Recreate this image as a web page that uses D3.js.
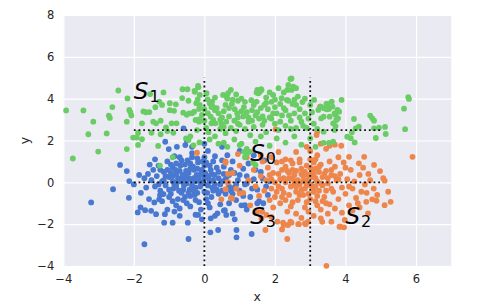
<!DOCTYPE html>
<html>
<head>
<meta charset="utf-8">
<script src="https://cdn.jsdelivr.net/npm/d3@7"></script>
<style>
  body { margin: 0; background: #fff; }
  text { font-family: "DejaVu Sans", sans-serif; }
</style>
</head>
<body>
<div id="chart"></div>
<script>
// cluster points
blueXY = [
  [-3.21,-0.96],[-2.59,-0.33],[-2.14,-0.74],[-2.13,0.06],[-2.20,0.54],[-2.39,0.83],[-1.70,-2.96],[-1.89,-1.44],
  [-1.81,-1.20],[-1.68,-1.33],[-1.51,-1.36],[-1.37,-1.52],[-1.42,-0.96],[-1.57,-0.80],[-1.26,-0.61],[-1.16,-0.56],
  [-1.28,-0.81],[-1.14,-1.93],[-0.90,-1.93],[-1.12,-1.52],[-0.45,-2.71],[-0.47,-1.93],[-0.07,-1.77],[0.17,-2.39],
  [0.39,-2.28],[0.91,-2.28],[0.91,-2.63],[1.34,-2.47],[-1.11,1.94],[-1.01,1.59],[-0.78,1.70],[-0.59,2.58],
  [-0.54,1.78],[-1.05,-1.30],[-0.85,-1.40],[-0.70,-1.25],[-0.80,-1.10],
  [-1.60,0.40],[-1.50,0.10],[-1.45,0.60],[-1.40,-0.20],[-1.35,0.30],[-1.30,0.80],[-1.25,-0.40],[-1.20,0.05],
  [-1.15,0.50],[-1.10,-0.15],[-1.05,1.00],[-1.00,0.25],[-0.95,-0.55],[-0.90,0.70],[-0.85,-0.10],[-0.80,0.40],
  [-0.75,-0.80],[-0.70,1.20],[-0.65,0.15],[-0.60,-0.35],[-0.55,0.85],[-0.50,-0.05],[-0.45,0.45],[-0.40,-0.65],
  [-0.35,1.40],[-0.30,0.20],[-0.25,-0.25],[-0.20,0.65],[-0.15,-0.95],[-0.10,0.00],[-0.05,1.00],[0.00,-0.45],
  [0.05,0.35],[0.10,-0.15],[0.15,0.80],[0.20,-0.70],[0.25,0.10],[0.30,1.25],[0.35,-0.35],[0.40,0.50],
  [0.45,-1.05],[0.50,0.05],[0.55,0.75],[0.60,-0.55],[0.65,0.30],[0.70,-0.20],[0.80,1.00],[0.85,0.45],
  [0.90,-0.85],[0.95,0.10],[1.00,-0.40],[1.10,0.65],[1.15,-0.10],[1.20,0.30],[1.30,-0.70],[1.40,0.15],
  [1.50,-0.35],[1.60,0.50],[1.75,-0.20],[1.85,0.05],
  [-1.70,0.20],[-1.65,-0.25],[-1.55,0.85],[-1.40,1.10],[-1.20,-0.90],[-1.00,-0.70],[-0.95,0.45],[-0.85,1.25],
  [-0.70,0.55],[-0.65,-0.50],[-0.55,0.30],[-0.50,-1.00],[-0.40,0.90],[-0.35,-0.15],[-0.30,0.60],[-0.20,-0.50],
  [-0.15,0.30],[-0.10,-1.30],[-0.05,0.55],[0.00,0.20],[0.05,-0.80],[0.10,1.50],[0.20,0.40],[0.25,-0.40],
  [0.35,0.70],[0.45,-0.10],[0.50,1.05],[0.60,0.15],[0.70,-1.00],[0.75,0.60],[0.85,-0.25],[1.00,0.35],
  [1.05,-1.10],[1.25,0.90],[1.35,-0.30],[1.45,0.60],[1.55,-0.90],[1.65,0.20],[-0.60,0.00],[-0.25,0.05],
  [0.15,0.05],[-0.45,0.20],[-0.75,0.20],[-0.30,-0.40],[0.30,-0.10],[-0.10,0.40],[0.55,0.40],[-0.90,0.05],
  [-1.10,0.30],[-0.20,1.15],[0.40,-0.55],[-0.55,-0.70],[0.80,-0.55],[1.10,-0.65],[-1.30,-0.10],[0.00,0.80],
  [-0.80,0.90],[0.25,1.00],[0.65,1.30],[-0.35,1.70],[0.00,1.20],[-0.40,-1.15],[0.15,-1.20],[0.55,-1.35],
  [-0.70,-1.60],[0.30,-1.60],[0.80,-1.50],[1.20,-1.30],[1.50,-1.00],[-0.25,-1.55],[-1.80,-0.50],[-1.85,0.35],
  [-2.00,-0.10],[1.70,1.05],[1.40,1.30],[1.00,1.50],[0.50,1.70],[0.00,1.85],[-0.50,2.00],[1.20,-0.05],
  [1.80,-0.60],[-0.18,-1.56],[0.18,-1.72],[0.37,-1.48],[0.58,-1.33],[0.62,-1.56],[0.86,-1.77],[1.15,-1.09],
  [1.67,-1.00],
  [-0.95,0.85],[-0.90,0.30],[-0.88,-0.30],[-0.82,0.60],[-0.78,0.00],[-0.72,-0.40],[-0.68,0.80],[-0.62,0.35],
  [-0.58,-0.15],[-0.52,0.55],[-0.48,1.05],[-0.42,-0.35],[-0.38,0.15],[-0.32,0.75],[-0.28,-0.60],[-0.22,0.35],
  [-0.18,0.95],[-0.12,-0.20],[-0.08,0.60],[-0.02,-0.05],[0.02,0.45],[0.08,-0.50],[0.12,0.20],[0.18,0.60],
  [0.22,-0.25],[0.28,0.35],[-1.05,0.60],[-1.00,-0.35],[-1.15,0.10],[-0.65,1.05],[-0.35,1.20],[-0.60,-0.85],
  [-0.25,-0.85],[0.10,-1.00],[-0.90,-0.90],[-0.45,-0.50],[-0.70,0.05],[-0.15,0.10],[-0.55,0.10],[-0.30,0.05],
  [-0.80,-0.20],[-0.40,0.65],[0.05,0.95],[-1.25,0.60],[-1.20,-0.55],[0.40,0.20],[0.50,-0.40],[0.70,0.35],
  [0.90,-0.10],[0.75,-0.40]
];

orangeXY = [
  [5.90,1.22],[3.46,-3.99],[5.11,0.08],[5.21,-0.45],[5.28,-0.93],[5.11,-1.09],[4.88,-0.88],[4.76,-0.81],
  [4.64,-1.48],[4.59,-0.93],[4.81,0.83],[4.53,1.22],[4.10,1.22],[4.38,0.91],[4.98,0.54],[5.07,0.20],
  [3.86,-2.12],[3.96,-2.15],[3.98,-1.80],[3.83,-2.12],[3.60,-1.88],[3.30,-1.72],[3.34,-1.89],[2.35,-2.71],
  [2.20,-2.25],[2.25,-2.04],[1.73,-2.28],[1.50,-1.40],[1.30,-1.10],[0.90,-0.30],[0.75,-0.75],[0.68,0.00],
  [0.80,0.45],[0.60,1.00],[0.95,1.35],[1.20,1.20],[1.60,1.30],[2.30,1.10],[2.60,1.45],[3.00,1.50],
  [3.15,1.10],[2.90,1.70],[2.07,-1.88],[2.23,-1.93],[2.37,-2.04],[2.47,-1.93],[2.66,-2.00],[2.85,-1.96],
  [2.94,-1.88],[1.64,-1.41],[1.76,-1.56],[1.90,-1.65],[1.62,-1.72],[2.44,-1.88],[2.68,-2.00],[2.87,-2.00],
  [2.00,0.00],[2.10,0.40],[2.20,-0.30],[2.30,0.75],[2.40,-0.60],[2.50,0.20],[2.55,-0.10],[2.60,0.55],
  [2.65,-0.85],[2.70,0.95],[2.75,-0.35],[2.80,0.30],[2.85,-1.20],[2.90,0.10],[2.95,-0.55],[3.00,0.70],
  [3.05,-0.20],[3.10,0.40],[3.15,-0.90],[3.20,0.05],[3.25,-0.40],[3.30,0.85],[3.35,0.25],[3.40,-0.70],
  [3.45,0.55],[3.50,-0.05],[3.55,-1.05],[3.60,0.35],[3.65,-0.45],[3.70,0.75],[3.75,0.10],[3.80,-0.80],
  [3.85,0.40],[3.90,-0.25],[3.95,0.95],[4.00,-0.55],[4.05,0.15],[4.10,-1.10],[4.15,0.60],[4.20,-0.30],
  [4.25,0.05],[4.30,-0.75],[4.40,0.35],[4.45,-0.45],[4.50,0.70],[4.55,-0.10],[1.60,0.30],[1.70,-0.40],
  [1.80,0.70],[1.85,-0.85],[1.90,0.15],[1.95,-1.20],[2.05,0.95],[2.15,-1.00],[2.25,0.20],[2.35,-1.40],
  [2.45,1.05],[2.60,-1.50],[2.75,-1.70],[2.95,-1.40],[3.10,-1.60],[3.30,-1.30],[3.50,-1.50],[3.70,-1.25],
  [3.90,-1.45],[4.20,-1.35],[4.35,-1.00],[1.40,0.60],[1.45,-0.20],[1.55,-0.65],[1.25,0.10],[1.10,-0.50],
  [1.00,0.80],[1.65,1.00],[1.90,1.20],[2.10,1.45],[2.50,0.90],[3.20,1.30],[3.55,1.00],[3.80,1.20],
  [4.00,0.70],[2.85,0.50],[3.00,-0.80],[2.40,0.45],[3.35,-0.15],[3.60,0.60],[2.70,-0.10],[3.15,0.65],
  [2.20,-0.70],[3.80,0.15],[4.10,-0.20],[2.05,-0.45],[2.60,-0.45],[2.90,-0.95],[3.45,-1.00],[3.05,0.25],
  [3.25,0.50],[2.80,-0.60],[3.50,0.20],[2.30,0.00],[1.75,0.10],[4.70,0.10],[4.80,-0.30],[4.65,0.40],
  [4.90,-0.60],[4.40,-1.20],[4.60,-0.50],[3.28,3.62],[3.20,2.42],[3.18,2.26],[2.02,2.53],[3.88,1.75],
  [3.30,1.85],[3.45,1.60],[3.55,1.75],[3.70,1.80],[-0.21,1.42],[0.60,0.94],[0.67,0.40],[0.65,0.00],
  [0.60,-0.33],[0.48,-0.81],[0.79,-0.77],[1.00,-0.53],
  [2.15,0.15],[2.25,-0.50],[2.35,0.55],[2.45,-0.20],[2.50,0.60],[2.55,0.35],[2.65,0.10],[2.70,-0.60],
  [2.75,0.65],[2.80,0.05],[2.85,-0.30],[2.90,0.80],[2.95,0.35],[3.00,-0.10],[3.05,0.55],[3.10,-0.45],
  [3.15,0.20],[3.20,-0.65],[3.25,0.75],[3.30,-0.05],[3.40,0.40],[3.45,-0.40],[2.40,0.20],[2.60,-0.20],
  [2.20,0.60],[2.00,-0.70],[1.95,0.45],[2.30,-0.85],[2.50,-0.95],[2.70,1.10],[3.00,1.10],[2.90,-0.15],
  [3.10,0.95],[3.35,-0.90],[2.10,-0.20],[1.85,0.35],[2.55,0.05],[2.75,0.40],[3.15,-0.20],[3.60,-0.30],
  [3.70,0.30],[2.20,1.00],[1.90,-0.30],[2.45,-1.15],[3.20,-1.10]
];

greenXY = [
  [-3.92,3.44],[-3.43,3.44],[-3.73,1.14],[-3.29,2.30],[-3.15,2.90],[-3.01,1.47],[-2.77,2.34],[-2.71,3.19],
  [-2.68,3.08],[-2.61,3.60],[-2.44,4.39],[-2.20,1.59],[-2.18,4.01],[-2.20,2.90],[-2.13,3.46],[-2.10,3.36],
  [-2.07,3.20],[-2.02,2.14],[-1.92,2.14],[-1.88,1.79],[-1.88,2.36],[-1.77,2.06],[-1.77,2.82],[-1.73,3.39],
  [-1.66,3.35],[-1.56,3.36],[-1.54,4.22],[-1.39,3.59],[-1.50,2.37],[-1.45,2.90],[-1.37,2.82],[-1.24,2.95],
  [-1.28,3.86],[-1.20,3.70],[-1.16,4.30],[-1.24,2.30],[-1.31,1.74],[-0.98,3.78],[-0.81,3.73],[-0.98,3.45],
  [-0.86,3.42],[-1.09,2.63],[-1.05,2.45],[-0.93,2.82],[-0.79,2.82],[-0.62,4.45],[-0.48,4.45],[-0.63,4.03],
  [-0.60,3.33],[-0.50,3.23],[-0.45,3.90],[-0.43,3.30],[-0.52,2.10],[-0.45,2.02],[-0.90,1.20],[-1.26,0.80],
  [-0.88,2.37],[-0.31,1.77],[-0.28,4.37],[-0.21,2.50],[-0.19,3.97],[-0.17,4.55],[-0.15,3.01],[-0.15,3.51],
  [-0.14,1.91],[-0.35,3.30],[-0.40,2.20],
  [-0.18,4.61],[-0.27,4.33],[-0.13,4.18],[-0.23,3.78],[-0.13,3.70],[-0.29,3.38],[-0.25,2.98],[-0.15,2.90],
  [-0.07,3.22],[0.06,4.26],[0.09,3.97],[0.15,3.78],[0.22,3.86],[0.24,3.62],[0.10,3.30],[0.18,3.14],
  [0.25,2.98],[0.31,2.82],[0.20,2.82],[0.40,3.30],[0.50,3.10],[0.62,2.90],[0.48,2.80],[0.53,4.18],
  [0.63,4.10],[0.67,4.26],[0.75,4.42],[0.78,3.75],[0.86,3.50],[0.93,3.30],[1.05,4.00],[1.12,3.60],
  [1.20,3.35],[1.33,3.93],[1.48,3.86],[1.57,4.33],[1.62,4.41],[1.53,4.26],[1.50,4.42],[1.61,4.45],
  [1.48,4.29],[1.95,4.18],[1.70,3.70],[1.80,3.50],[1.90,3.85],[2.00,3.60],[2.19,4.02],[2.34,3.94],
  [2.47,4.42],[2.47,4.97],[2.38,4.66],[2.52,4.57],[2.44,4.94],[2.35,4.42],[2.60,4.50],[2.38,3.90],
  [2.78,3.84],[2.60,3.70],[2.70,3.50],[2.55,3.30],[2.85,3.30],[3.11,3.94],[3.49,3.75],[3.61,3.86],
  [3.89,3.94],[3.23,3.46],[3.39,3.54],[3.53,3.51],[3.77,3.46],[3.82,3.38],[3.72,3.22],[3.63,3.62],
  [3.30,3.62],[3.46,3.75],[3.47,3.49],[3.38,3.14],[3.31,3.06],[3.55,3.14],[3.69,3.30],[3.79,3.43],
  [3.74,2.98],[3.79,3.06],[3.65,2.82],[3.72,2.69],[3.69,2.50],[3.38,2.42],[4.24,3.03],[4.38,2.66],
  [4.29,2.58],[4.70,3.19],[4.76,3.06],[4.81,2.95],[4.81,2.58],[4.95,2.61],[5.12,2.65],[5.14,2.31],
  [4.86,2.12],[5.66,3.52],[5.78,4.07],[5.80,3.99],[5.69,2.54],[4.05,2.18],[4.15,2.11],[4.26,1.91],
  [4.18,2.39],[3.38,1.89],[3.53,1.89],[3.65,1.94],
  [0.05,2.60],[0.12,2.40],[0.30,2.20],[0.45,2.55],[0.60,2.35],[0.75,2.60],[0.90,2.45],[1.00,2.75],
  [1.15,2.55],[1.25,2.90],[1.40,2.65],[1.55,3.05],[1.65,2.75],[1.75,2.40],[1.85,3.10],[2.00,2.80],
  [2.10,2.50],[2.20,3.20],[2.30,2.70],[2.45,2.95],[2.60,2.60],[2.75,2.90],[2.90,2.60],[2.95,3.05],
  [3.10,2.80],[3.20,2.55],[0.15,2.05],[0.40,1.85],[0.65,1.70],[0.85,2.05],[1.05,1.85],[1.20,1.60],
  [1.45,1.95],[1.60,2.20],[1.85,1.75],[2.05,2.10],[2.30,1.90],[2.55,2.20],[2.75,1.80],[3.00,2.10],
  [3.15,1.70],[0.70,3.55],[0.95,3.90],[1.10,3.15],[1.35,3.45],[1.45,3.20],[1.60,3.55],[1.95,3.30],
  [2.15,3.75],[2.30,3.45],[2.50,3.75],[2.65,4.10],[2.85,4.00],[3.00,3.70],[3.05,3.35],[0.35,3.55],
  [0.55,3.40],[0.00,3.50],[0.00,2.95],[0.85,2.95],[1.30,2.25],[2.00,3.95],[2.25,4.30],[1.75,4.05],
  [0.90,4.20],[0.30,4.05],[0.55,1.90],[1.00,1.78],[1.29,1.46],[1.15,1.20],[1.38,0.94],[1.12,1.46],
  [1.21,1.39],[1.45,0.83],
  [0.30,3.45],[0.45,3.00],[0.60,3.70],[0.70,3.15],[0.80,3.95],[0.95,3.10],[1.05,3.40],[1.15,3.85],
  [1.25,3.10],[1.40,3.70],[1.50,3.35],[1.65,3.15],[1.75,3.80],[1.90,3.05],[2.05,3.30],[2.15,2.90],
  [2.25,3.55],[2.40,3.20],[2.55,3.95],[2.70,3.10],[2.80,2.70],[0.55,2.65],[0.95,2.80],[1.35,2.95],
  [1.70,2.95],[2.45,2.55],[0.20,3.60],[0.65,4.00],[1.85,4.30],[2.10,4.50]
];

seriesColors = ["#4878d0", "#ee854a", "#6acc64"];

// dotted guide lines
vLineX = [0, 3];
vLineY = [-4, 5];
hLineY = [0, 2.5];
hLineX = [-2, 5];

// region labels
labelMain = ["S", "S", "S", "S"];
labelSub = ["1", "0", "3", "2"];
labelX = [-2, 1.3, 1.3, 4];
labelY = [4, 1, -2, -2];

xTicks = [-4, -2, 0, 2, 4, 6];
yTicks = [-4, -2, 0, 2, 4, 6, 8];

width = 479;
height = 305;
margin = {left: 63.3, right: 27.7, top: 15, bottom: 39};

xScale = d3.scaleLinear().domain([-4, 7]).range([margin.left, width - margin.right]);
yScale = d3.scaleLinear().domain([-4, 8]).range([height - margin.bottom, margin.top]);

svg = d3.select("#chart").append("svg")
    .attr("width", width)
    .attr("height", height);

svg.append("rect")
    .attr("x", xScale(-4))
    .attr("y", yScale(8))
    .attr("width", xScale(7) - xScale(-4))
    .attr("height", yScale(-4) - yScale(8))
    .attr("fill", "#eaeaf2");

/* grid via axes */
svg.append("g")
    .attr("transform", `translate(0, ${yScale(-4)})`)
    .call(d3.axisBottom(xScale).tickValues(xTicks).tickSize(-(yScale(-4) - yScale(8))).tickPadding(9))
    .call(g => g.select(".domain").remove())
    .call(g => g.selectAll("line").attr("stroke", "#fff").attr("stroke-width", 1.2))
    .call(g => g.selectAll("text").attr("fill", "#262626").style("font-size", "11.5px"));

svg.append("g")
    .attr("transform", `translate(${xScale(-4)}, 0)`)
    .call(d3.axisLeft(yScale).tickValues(yTicks).tickSize(-(xScale(7) - xScale(-4))).tickPadding(9))
    .call(g => g.select(".domain").remove())
    .call(g => g.selectAll("line").attr("stroke", "#fff").attr("stroke-width", 1.2))
    .call(g => g.selectAll("text").attr("fill", "#262626").style("font-size", "11.5px"));

/* points */
[blueXY, orangeXY, greenXY].forEach(function (pts, i) {
    svg.append("g")
        .attr("fill", seriesColors[i])
        .selectAll("circle")
        .data(pts).enter()
        .append("circle")
        .attr("cx", d => xScale(d[0]))
        .attr("cy", d => yScale(d[1]))
        .attr("r", 2.9);
});

/* dotted lines */
guides = svg.append("g")
    .attr("stroke", "#111")
    .attr("stroke-width", 1.8)
    .attr("stroke-dasharray", "1.8,2.9");

vLineX.forEach(function (x) {
    guides.append("line")
        .attr("x1", xScale(x)).attr("x2", xScale(x))
        .attr("y1", yScale(vLineY[0])).attr("y2", yScale(vLineY[1]));
});
hLineY.forEach(function (y) {
    guides.append("line")
        .attr("x1", xScale(hLineX[0])).attr("x2", xScale(hLineX[1]))
        .attr("y1", yScale(y)).attr("y2", yScale(y));
});

/* S labels */
labelMain.forEach(function (m, i) {
    t = svg.append("text")
        .attr("x", xScale(labelX[i]))
        .attr("y", yScale(labelY[i]))
        .attr("fill", "#000");
    t.append("tspan")
        .style("font-style", "italic")
        .style("font-size", "23px")
        .text(m);
    t.append("tspan")
        .attr("dy", 3)
        .attr("dx", 1)
        .style("font-size", "16px")
        .text(labelSub[i]);
});

/* axis labels */
svg.append("text")
    .attr("x", (xScale(-4) + xScale(7)) / 2)
    .attr("y", 301)
    .attr("text-anchor", "middle")
    .attr("fill", "#262626")
    .style("font-size", "12.5px")
    .text("x");

svg.append("text")
    .attr("transform", `translate(29, ${(yScale(-4) + yScale(8)) / 2}) rotate(-90)`)
    .attr("text-anchor", "middle")
    .attr("fill", "#262626")
    .style("font-size", "12.5px")
    .text("y");
</script>
</body>
</html>
